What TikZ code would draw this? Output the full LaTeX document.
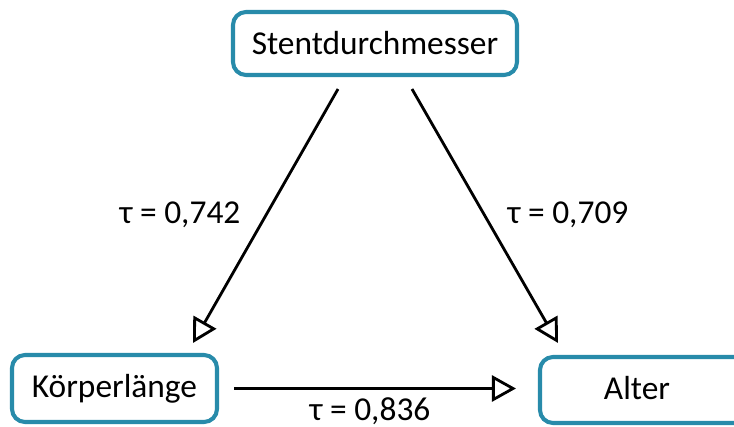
\documentclass[tikz,border=0pt]{standalone}
\usepackage{fontspec}
\setmainfont{Carlito}
\usetikzlibrary{arrows.meta}
\definecolor{boxblue}{RGB}{40,139,170}

\begin{document}
\begin{tikzpicture}[
		var/.style={draw=boxblue, line width=2.3pt, rounded corners=0.26cm, font=\fontsize{19}{23}\selectfont, inner sep=0pt},
		link/.style={line width=1.6pt, -{Triangle[open, length=0.48cm, width=0.52cm, line width=1.6pt]}},
		coef/.style={font=\fontsize{19}{23}\selectfont}
	]
				\useasboundingbox (0,0) rectangle (14.68,-8.54);
				
				\node[var, minimum width=5.68cm, minimum height=1.26cm] (stent) at (7.5,-0.87) {Stentdurchmesser};
				\node[var, minimum width=4.1cm, minimum height=1.34cm] (koerper) at (2.29,-7.77) {Körperlänge};
				\node[var, minimum width=4.3cm, minimum height=1.32cm] (alter) at (12.95,-7.8) {};
				\node[coef] (altertext) at (12.74,-7.76) {Alter};
				
				\draw[link] ([xshift=-0.74cm, yshift=-0.24cm]stent.south) -- ([xshift=1.57cm, yshift=0.2cm]koerper.north);
				\draw[link] ([xshift=0.74cm, yshift=-0.24cm]stent.south) -- ([xshift=-1.79cm, yshift=0.24cm]alter.north);
				\draw[link] ([xshift=0.3cm]koerper.east) -- ([xshift=-0.44cm]alter.west |- koerper.east);
				
				\node[coef] (t1) at (3.6,-4.3) {τ = 0,742};
				\node[coef] (t2) at (11.36,-4.3) {τ = 0,709};
				\node[coef] (t3) at (7.4,-8.22) {τ = 0,836};
			\end{tikzpicture}
\end{document}
